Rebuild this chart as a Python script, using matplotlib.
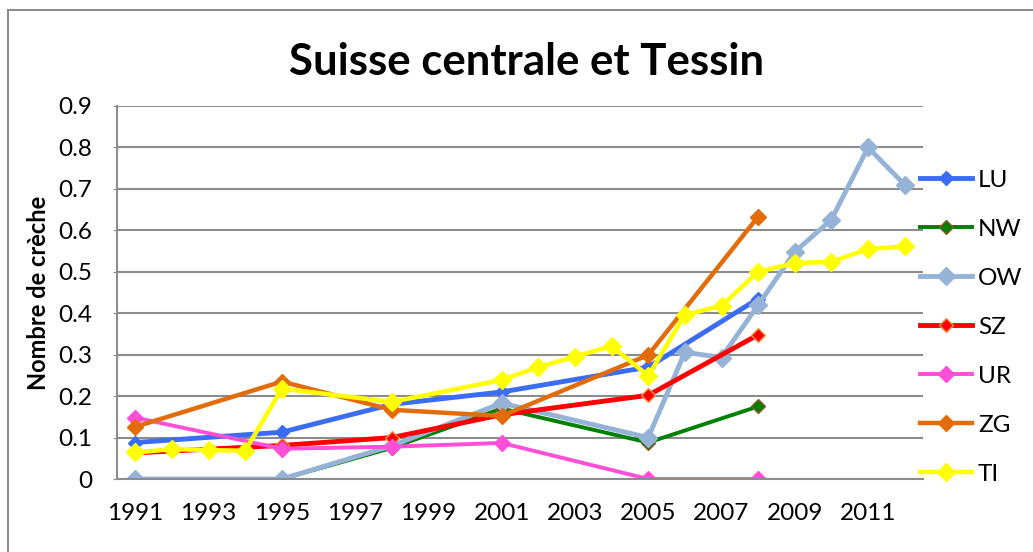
import matplotlib
matplotlib.use("Agg")
import matplotlib.pyplot as plt
from matplotlib.patches import Rectangle

plt.rcParams['font.family'] = ['Lato', 'DejaVu Sans']

# data (Nombre de crèche per year)
lu_years = [1991, 1995, 1998, 2001, 2005, 2008]
lu = [0.088, 0.113, 0.18, 0.21, 0.27, 0.435]

nw_years = [1991, 1995, 1998, 2001, 2005, 2008]
nw = [0.0, 0.0, 0.075, 0.17, 0.088, 0.175]

ow_years = [1991, 1995, 1998, 2001, 2005, 2006, 2007, 2008, 2009, 2010, 2011, 2012]
ow = [0.0, 0.0, 0.08, 0.183, 0.10, 0.306, 0.293, 0.42, 0.548, 0.626, 0.80, 0.71]

sz_years = [1991, 1995, 1998, 2001, 2005, 2008]
sz = [0.063, 0.081, 0.10, 0.155, 0.202, 0.348]

ur_years = [1991, 1995, 1998, 2001, 2005, 2008]
ur = [0.148, 0.073, 0.078, 0.087, 0.0, 0.0]

zg_years = [1991, 1995, 1998, 2001, 2005, 2008]
zg = [0.126, 0.235, 0.167, 0.152, 0.299, 0.633]

ti_years = [1991, 1992, 1993, 1994, 1995, 1998, 2001, 2002, 2003, 2004, 2005,
            2006, 2007, 2008, 2009, 2010, 2011, 2012]
ti = [0.064, 0.072, 0.07, 0.068, 0.218, 0.186, 0.239, 0.27, 0.295, 0.321, 0.249,
      0.396, 0.418, 0.50, 0.521, 0.524, 0.555, 0.561]

series = [
    ("LU", lu_years, lu, "#3a6cf4", "#3a6cf4", 3.5, 9),
    ("NW", nw_years, nw, "#008000", "#8a5a2a", 2.8, 9),
    ("OW", ow_years, ow, "#95b3d7", "#95b3d7", 3.5, 11),
    ("SZ", sz_years, sz, "#ff0000", "#f79646", 3.5, 9),
    ("UR", ur_years, ur, "#ff4fd8", "#ff4fd8", 2.8, 10),
    ("ZG", zg_years, zg, "#e36c0a", "#e36c0a", 3.2, 10),
    ("TI", ti_years, ti, "#ffff00", "#ffff00", 3.2, 11),
]

fig = plt.figure(figsize=(10.33, 5.52), dpi=100)
ax = fig.add_axes([117/1033, 1-479/552, (923-117)/1033, (479-106)/552])

# outer chart border
fig.patches.append(Rectangle((8/1033, -0.05), 1.1, 1-10/552+0.05, transform=fig.transFigure,
                             fill=False, edgecolor="#8c8c8c", linewidth=1.5))

for name, xs, ys, col, edge, lw, ms in series:
    ax.plot(xs, ys, color=col, linewidth=lw, marker="D", markersize=ms * 0.8,
            markerfacecolor=col, markeredgecolor=edge, markeredgewidth=1.0, label=name)

ax.set_xlim(1990.5, 2012.5)
ax.set_ylim(0, 0.9)
ax.set_yticks([i / 10 for i in range(10)])
ax.set_yticklabels(["0"] + ["0.%d" % i for i in range(1, 10)])
ax.set_xticks(list(range(1991, 2013, 2)))
ax.grid(axis="y", color="#8c8c8c", linewidth=1.5)
ax.set_axisbelow(True)
for s in ["top", "right"]:
    ax.spines[s].set_visible(False)
for s in ["left", "bottom"]:
    ax.spines[s].set_color("#8c8c8c")
    ax.spines[s].set_linewidth(1.5)
ax.tick_params(axis="y", length=3, color="#8c8c8c", labelsize=17.5, pad=15)
ax.tick_params(axis="x", length=0, labelsize=17.5, pad=17)

ax.set_ylabel("Nombre de crèche", fontsize=17, fontweight="bold", labelpad=6)
fig.text(527/1033, 1-62/552, "Suisse centrale et Tessin", fontsize=31.5,
         fontweight="bold", ha="center", va="center")

ax.legend(loc="upper left", bbox_to_anchor=(0.984, 0.855), frameon=False, fontsize=17.5,
          labelspacing=1.15, handlelength=2.14, handletextpad=0.25, borderaxespad=0)

fig.savefig("out.png", dpi=100)
